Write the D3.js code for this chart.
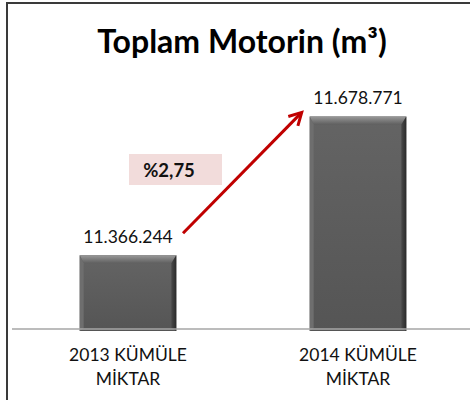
<!DOCTYPE html>
<html><head><meta charset="utf-8">
<script src="https://cdn.jsdelivr.net/npm/d3@7"></script>
<style>html,body{margin:0;padding:0;background:#fff;}svg{display:block;}</style>
</head><body>
<svg id="c" width="470" height="400"></svg>
<script>
const title = "Toplam Motorin (m³)";
const categories = ["2013 KÜMÜLE|MİKTAR", "2014 KÜMÜLE|MİKTAR"];
const values = [11366244, 11678771];
const valueLabels = ["11.366.244", "11.678.771"];
const yDomain = [11200000, 11700000];

const font = "Lato, 'Open Sans', sans-serif";
const svg = d3.select("#c");
const defs = svg.append("defs");

// frame
svg.append("rect").attr("x", 7).attr("y", 3).attr("width", 480).attr("height", 420)
  .attr("fill", "#fff").attr("stroke", "#3a3a3a").attr("stroke-width", 2);

svg.append("text").attr("x", 242).attr("y", 53).attr("text-anchor", "middle")
  .attr("font-family", font).attr("font-weight", "bold").attr("font-size", 32)
  .attr("fill", "#000").text(title);

const x = d3.scaleBand().domain(categories).range([13, 473]).paddingInner(0.58).paddingOuter(0.29);
const y = d3.scaleLinear().domain(yDomain).range([329, 107]);

// gradients
const gMain = defs.append("linearGradient").attr("id", "gMain").attr("x1", 0).attr("y1", 0).attr("x2", 0).attr("y2", 1);
gMain.append("stop").attr("offset", 0).attr("stop-color", "#646464");
gMain.append("stop").attr("offset", 1).attr("stop-color", "#555555");
const gTop = defs.append("linearGradient").attr("id", "gTop").attr("x1", 0).attr("y1", 0).attr("x2", 0).attr("y2", 1);
gTop.append("stop").attr("offset", 0).attr("stop-color", "#9a9a9a");
gTop.append("stop").attr("offset", 0.5).attr("stop-color", "#7c7c7c");
gTop.append("stop").attr("offset", 1).attr("stop-color", "#606060");
const gRight = defs.append("linearGradient").attr("id", "gRight").attr("x1", 0).attr("y1", 0).attr("x2", 1).attr("y2", 0);
gRight.append("stop").attr("offset", 0).attr("stop-color", "#4a4a4a");
gRight.append("stop").attr("offset", 1).attr("stop-color", "#2a2a2a");

const bars = svg.append("g").selectAll("g").data(values).join("g");
bars.append("rect").attr("x", (d, i) => x(categories[i])).attr("y", d => y(d))
  .attr("width", x.bandwidth()).attr("height", d => y(yDomain[0]) - y(d) + 2)
  .attr("fill", "url(#gMain)");
bars.append("path").attr("d", (d, i) => {
  const x0 = x(categories[i]), x1 = x0 + x.bandwidth(), t = y(d);
  return `M${x0},${t}L${x1},${t}L${x1 - 5},${t + 8}L${x0 + 4},${t + 8}Z`;
}).attr("fill", "url(#gTop)");
bars.append("path").attr("d", (d, i) => {
  const x1 = x(categories[i]) + x.bandwidth(), t = y(d), b = y(yDomain[0]) + 2;
  return `M${x1},${t}L${x1},${b}L${x1 - 5},${b - 3}L${x1 - 5},${t + 8}Z`;
}).attr("fill", "url(#gRight)");
bars.append("path").attr("d", (d, i) => {
  const x0 = x(categories[i]), t = y(d), b = y(yDomain[0]) + 2;
  return `M${x0},${t}L${x0 + 4},${t + 8}L${x0 + 4},${b - 3}L${x0},${b}Z`;
}).attr("fill", "#6e6e6e");

// baseline
svg.append("line").attr("x1", 12).attr("x2", 470).attr("y1", y(yDomain[0])).attr("y2", y(yDomain[0]))
  .attr("stroke", "#a6a6a6").attr("stroke-width", 1.5);

// value labels
svg.append("g").selectAll("text").data(values).join("text")
  .attr("x", (d, i) => x(categories[i]) + x.bandwidth() / 2)
  .attr("y", d => y(d) - 12)
  .attr("text-anchor", "middle").attr("font-family", font).attr("font-size", 17.5)
  .attr("fill", "#111").text((d, i) => valueLabels[i]);

// category labels
const cl = svg.append("g").selectAll("text").data(categories).join("text")
  .attr("x", d => x(d) + x.bandwidth() / 2).attr("y", 361)
  .attr("text-anchor", "middle").attr("font-family", font).attr("font-size", 17.5).attr("fill", "#111");
cl.selectAll("tspan").data(d => d.split("|")).join("tspan")
  .attr("x", function () { return d3.select(this.parentNode).attr("x"); })
  .attr("dy", (d, i) => i === 0 ? 0 : 24).text(d => d);

// arrow
const c0 = x(categories[0]) + x.bandwidth() / 2, c1 = x(categories[1]);
const ax0 = c0 + 55, ay0 = y(values[0]) - 22, ax1 = c1 - 8, ay1 = y(values[1]) - 4;
const ang = Math.atan2(ay1 - ay0, ax1 - ax0);
const hl = 14, ha = 0.5;
svg.append("line").attr("x1", ax0).attr("y1", ay0).attr("x2", ax1 - Math.cos(ang)).attr("y2", ay1 - Math.sin(ang))
  .attr("stroke", "#c00000").attr("stroke-width", 3);
svg.append("path").attr("d",
  `M${ax1 - hl * Math.cos(ang - ha)},${ay1 - hl * Math.sin(ang - ha)}L${ax1},${ay1}L${ax1 - hl * Math.cos(ang + ha)},${ay1 - hl * Math.sin(ang + ha)}`)
  .attr("fill", "none").attr("stroke", "#c00000").attr("stroke-width", 3).attr("stroke-linejoin", "miter");

// percentage box
const pct = (values[1] / values[0] - 1) * 100;
const pctText = "%" + pct.toFixed(2).replace(".", ",");
svg.append("rect").attr("x", 129).attr("y", 154).attr("width", 93).attr("height", 31).attr("fill", "#f2dcdb");
svg.append("text").attr("x", 169).attr("y", 177).attr("text-anchor", "middle")
  .attr("font-family", font).attr("font-weight", "bold").attr("font-size", 18.5).attr("fill", "#111").text(pctText);
</script>
</body></html>
